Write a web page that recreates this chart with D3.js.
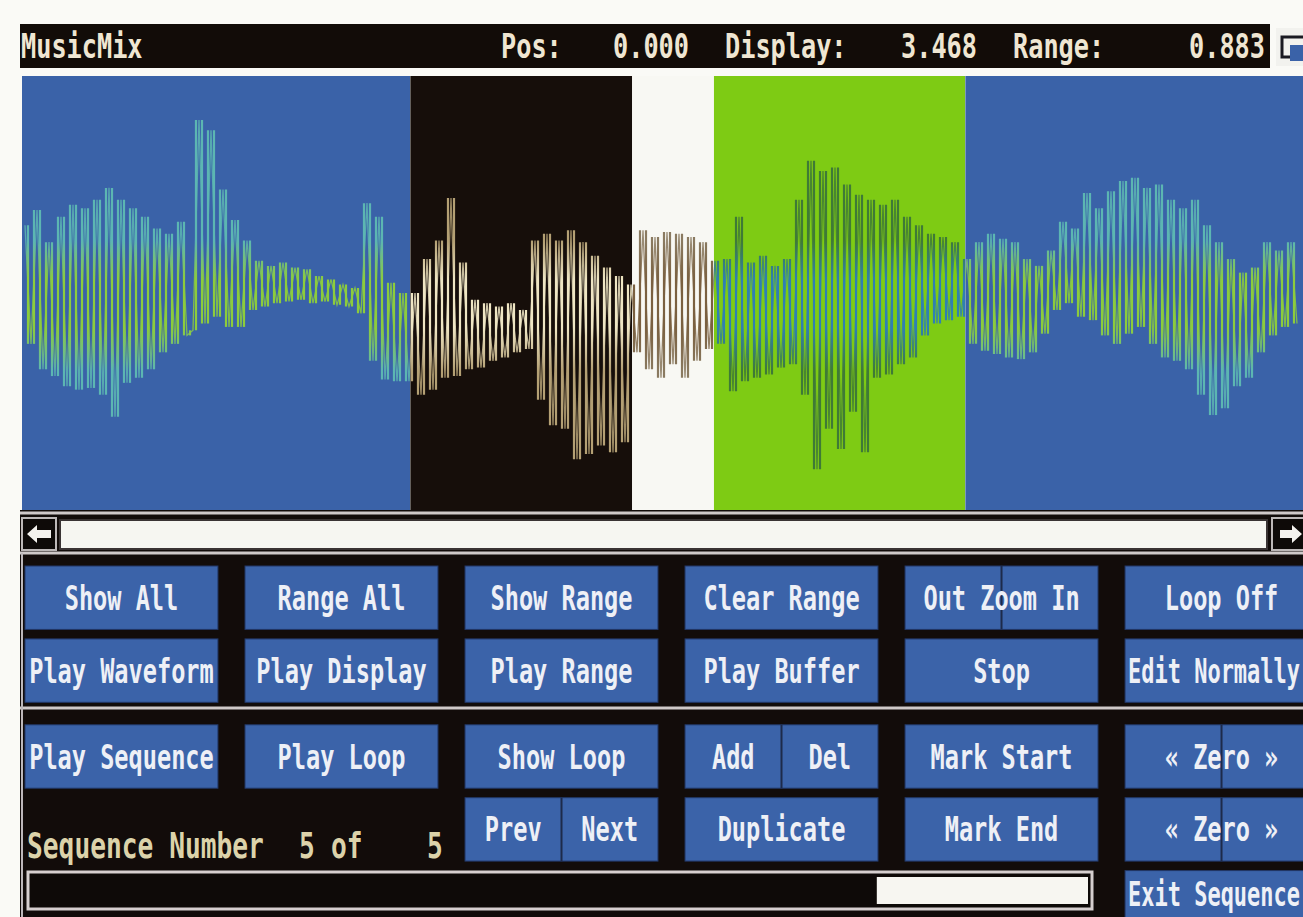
<!DOCTYPE html>
<html>
<head>
<meta charset="utf-8">
<script src="https://cdn.jsdelivr.net/npm/d3@7"></script>
<style>
html,body{margin:0;padding:0;background:#fafaf6;overflow:hidden}
text{font-family:"DejaVu Sans Mono",monospace;font-weight:bold}
</style>
</head>
<body>
<svg id="screen"></svg>
<script>
// waveform samples (8 bit, -128..127), one per display column
var samples = [
  40,-30,49,-45,30,-49,45,-55,52,-57,50,-56,55,-60,62,-73,55,-53,50,-50,
  45,-45,38,-35,35,-30,42,-25,-22,102,-18,96,-14,61,-20,43,-20,31,-10,19,
  -8,16,-6,18,-5,15,-4,14,-6,10,-5,8,-7,5,-8,3,-12,53,-40,45,
  -51,6,-52,0,-52,
  0,-60,20,-57,31,-50,56,-49,18,-45,-4,-44,-6,-40,-8,-38,-6,-35,-10,-33,
  31,-63,35,-78,31,-80,37,-98,30,-95,22,-90,15,-94,10,-88,5,
  -35,37,-45,33,-50,36,-42,35,-50,33,-40,30,-33,
  19,-30,20,-58,45,-52,18,-50,22,-48,16,-44,20,-42,55,-60,78,-104,72,-80,
  74,-92,64,-70,58,-94,55,-50,52,-48,55,-42,45,-38,40,-25,35,-18,33,-16,
  30,-14,
  20,-30,30,-34,35,-36,32,-38,30,-39,20,-35,16,-24,25,-10,42,-6,38,-14,
  59,-16,50,-25,60,-30,66,-24,68,-20,62,-30,64,-38,55,-40,50,-45,55,-60,
  40,-72,30,-68,20,-55,12,-50,15,-35,30,-25,25,-20,30,-18
];

// sample index where each coloured stretch of the display begins / ends
var regionBounds = [-0.5, 64.2, 101.2, 114.8, 156.7, 213];
var regionFill  = ["#3a62a8", "#160e0a", "#f8f8f3", "#7ecb14", "#3a62a8"];
var regionCore  = ["#8ccc3c", "#efe6c4", "#7a6040", "#2f7fb4", "#8ccc3c"];
var regionEdge  = ["#5cb6b2", "#b4a074", "#8a7a60", "#3f7a36", "#5cb6b2"];

var appName = "MusicMix";
var statusLabels = ["Pos:", "Display:", "Range:"];
var statusValues = ["0.000", "3.468", "0.883"];

var buttonRows = [
  ["Show All", "Range All", "Show Range", "Clear Range", "Out Zoom In", "Loop Off"],
  ["Play Waveform", "Play Display", "Play Range", "Play Buffer", "Stop", "Edit Normally"],
  ["Play Sequence", "Play Loop", "Show Loop", "Add|Del", "Mark Start", "\u00ab Zero \u00bb"],
  ["", "", "Prev|Next", "Duplicate", "Mark End", "\u00ab Zero \u00bb"],
  ["", "", "", "", "", "Exit Sequence"]
];
var dividedButtons = ["Out Zoom In", "\u00ab Zero \u00bb"];

var sequenceLabel = "Sequence Number";
var sequenceNumber = 5;
var sequenceCount = 5;

var W = 1303, H = 917;
var ADV = 0.602, CAP = 0.729;   // DejaVu Sans Mono advance / cap height per em

var svg = d3.select("#screen").attr("width", W).attr("height", H);
var defs = svg.append("defs");

// monospace text: charW = advance per char, cap = wanted cap height
var monoText = function(sel, charW, cap) {
  var fs = charW / ADV;
  sel.attr("font-size", fs).attr("transform", function() {
    return d3.select(this).attr("transform") + " scale(1," + (cap / (fs * CAP)).toFixed(3) + ")";
  });
};

// ---- title bar ----
svg.append("rect").attr("x", 20).attr("y", 24).attr("width", 1250).attr("height", 44).attr("fill", "#120c08");

var statusLine = appName.padEnd(30);
statusLabels.forEach(function(l, i) {
  var pad = i == 2 ? 10 : 8;
  statusLine += l + statusValues[i].padStart(pad) + (i < 2 ? "  " : "");
});
var tokens = [];
statusLine.replace(/\S+/g, function(t, idx) { tokens.push({t: t, col: idx}); });

var charX = d3.scaleLinear().domain([0, 1]).range([21, 37]);
svg.append("g").selectAll("text").data(tokens).enter().append("text")
  .attr("transform", function(d) { return "translate(" + charX(d.col) + ",58)"; })
  .attr("fill", "#efe6d2")
  .text(function(d) { return d.t; })
  .call(monoText, 15.2, 25);

// depth gadget
svg.append("rect").attr("x", 1276).attr("y", 28).attr("width", 36).attr("height", 38).attr("fill", "#f2f2ee");
svg.append("rect").attr("x", 1282).attr("y", 37).attr("width", 28).attr("height", 20).attr("fill", "none")
  .attr("stroke", "#1a1a22").attr("stroke-width", 3);
svg.append("rect").attr("x", 1290).attr("y", 45).attr("width", 20).attr("height", 16).attr("fill", "#3a62a8");

// ---- waveform display ----
var xScale = d3.scaleLinear().domain([0, samples.length - 1]).range([25, 1297]);
var yScale = d3.scaleLinear().domain([-128, 128]).range([510, 76]);

d3.range(regionFill.length).forEach(function(r) {
  var grad = defs.append("linearGradient").attr("id", "ink" + r)
    .attr("gradientUnits", "userSpaceOnUse")
    .attr("x1", 0).attr("x2", 0).attr("y1", yScale(128)).attr("y2", yScale(-128));
  [[0, regionEdge[r]], [0.38, regionEdge[r]], [0.47, regionCore[r]], [0.58, regionCore[r]], [0.68, regionEdge[r]], [1, regionEdge[r]]]
    .forEach(function(s) { grad.append("stop").attr("offset", s[0]).attr("stop-color", s[1]); });
});

var strokes = d3.range(1, samples.length);
var line = d3.line()
  .x(function(d, i) { return xScale(i); })
  .y(function(d) { return yScale(d); });

d3.range(regionFill.length).forEach(function(r) {
  var x0 = xScale(regionBounds[r]), x1 = xScale(regionBounds[r + 1]);
  defs.append("clipPath").attr("id", "reg" + r)
    .append("rect").attr("x", x0).attr("y", yScale(128)).attr("width", x1 - x0).attr("height", yScale(-128) - yScale(128));
  var g = svg.append("g").attr("clip-path", "url(#reg" + r + ")");
  g.append("rect").attr("x", x0).attr("y", yScale(128)).attr("width", x1 - x0)
    .attr("height", yScale(-128) - yScale(128)).attr("fill", regionFill[r]);
  g.append("path").datum(samples).attr("d", line).attr("fill", "none")
    .attr("stroke", "url(#ink" + r + ")").attr("stroke-width", 1.3).attr("stroke-opacity", 0.85);
  g.append("g").selectAll("line").data(strokes).enter().append("line")
    .attr("x1", function(i) { return xScale(i - 0.5); })
    .attr("x2", function(i) { return xScale(i - 0.5); })
    .attr("y1", function(i) { return yScale(samples[i - 1]); })
    .attr("y2", function(i) { return yScale(samples[i]); })
    .attr("stroke", "url(#ink" + r + ")")
    .attr("stroke-width", 2.2);
});

// ---- control panel ----
svg.append("rect").attr("x", 20).attr("y", 510).attr("width", W - 20).attr("height", H - 510).attr("fill", "#120c0a");

var lightLines = [513, 553, 708];
svg.append("g").selectAll("line").data(lightLines).enter().append("line")
  .attr("x1", 20).attr("x2", W).attr("y1", function(d) { return d; }).attr("y2", function(d) { return d; })
  .attr("stroke", "#cfc9c9").attr("stroke-width", 3);
svg.append("line").attr("x1", 22).attr("x2", 22).attr("y1", 553).attr("y2", H)
  .attr("stroke", "#bdb8bb").attr("stroke-width", 2);

// scroll bar
svg.append("rect").attr("x", 22).attr("y", 518).attr("width", 34).attr("height", 32)
  .attr("fill", "#0e0a08").attr("stroke", "#bdb8b8").attr("stroke-width", 2);
svg.append("path").attr("d", "M27,534 L37,525 L37,530 L51,530 L51,538 L37,538 L37,543 Z").attr("fill", "#f4f2ee");
svg.append("rect").attr("x", 60).attr("y", 520).attr("width", 1207).attr("height", 29)
  .attr("fill", "#f6f6f1").attr("stroke", "#3a3434").attr("stroke-width", 2);
svg.append("rect").attr("x", 1272).attr("y", 518).attr("width", 40).attr("height", 32)
  .attr("fill", "#0e0a08").attr("stroke", "#bdb8b8").attr("stroke-width", 2);
svg.append("path").attr("d", "M1302,534 L1292,525 L1292,530 L1280,530 L1280,538 L1292,538 L1292,543 Z").attr("fill", "#f4f2ee");

// buttons
var colX = d3.scaleBand().domain(d3.range(6)).range([25, 1318]).paddingInner(0.123);
var rowY = d3.scaleBand().domain(d3.range(5)).range([566, 921]).paddingInner(0.13);
var rowTop = function(r) { return rowY(r) + (r >= 2 ? 13 : 0); };

var buttons = [];
buttonRows.forEach(function(row, r) {
  row.forEach(function(label, c) {
    if (label) buttons.push({label: label, r: r, c: c});
  });
});

var bw = colX.bandwidth(), bh = rowY.bandwidth();

var bg = svg.append("g").selectAll("g").data(buttons).enter().append("g")
  .attr("transform", function(d) { return "translate(" + colX(d.c) + "," + rowTop(d.r) + ")"; });

bg.append("rect").attr("width", bw).attr("height", bh).attr("fill", "#3b63a9")
  .attr("stroke", "#223766").attr("stroke-width", 1);

bg.filter(function(d) { return d.label.indexOf("|") >= 0 || dividedButtons.indexOf(d.label) >= 0; })
  .append("line").attr("x1", bw / 2).attr("x2", bw / 2).attr("y1", 0).attr("y2", bh)
  .attr("stroke", "#1d2a4a").attr("stroke-width", 2);

bg.each(function(d) {
  var parts = d.label.split("|");
  var g = d3.select(this);
  var visW = Math.min(bw, W - colX(d.c));
  var visH = Math.min(bh, H - rowTop(d.r));
  parts.forEach(function(p, k) {
    var fits = p.length * 14.2 <= 2 * Math.min(bw / 2, visW - bw / 2) - 4;
    var cx = parts.length == 1 ? (fits ? bw / 2 : visW / 2) : bw * (k * 2 + 1) / 4;
    var cw = fits ? 14.2 : (visW - 6) / p.length;
    g.append("text")
      .attr("transform", "translate(" + cx + "," + (visH / 2 + 12) + ")")
      .attr("text-anchor", "middle")
      .attr("fill", "#eef0f6")
      .text(p)
      .call(monoText, cw, 25);
  });
});

// sequence number read-out
var seqTokens = [
  {t: sequenceLabel, col: 0},
  {t: String(sequenceNumber), col: 17},
  {t: "of", col: 19},
  {t: String(sequenceCount), col: 25}
];
var seqX = d3.scaleLinear().domain([0, 1]).range([27, 43]);
svg.append("g").selectAll("text").data(seqTokens).enter().append("text")
  .attr("transform", function(d) { return "translate(" + seqX(d.col) + ",858)"; })
  .attr("fill", "#dcd3aa")
  .text(function(d) { return d.t; })
  .call(monoText, 15.8, 26);

// sequence slider
var track = d3.scaleLinear().domain([0, sequenceCount]).range([32, 1088]);
svg.append("rect").attr("x", 28).attr("y", 872).attr("width", 1064).attr("height", 37)
  .attr("fill", "#0e0a08").attr("stroke", "#d6cfcf").attr("stroke-width", 3);
svg.append("rect").attr("x", track(sequenceNumber - 1)).attr("y", 877)
  .attr("width", track(sequenceNumber) - track(sequenceNumber - 1)).attr("height", 27)
  .attr("fill", "#f7f6f1");
</script>
</body>
</html>
